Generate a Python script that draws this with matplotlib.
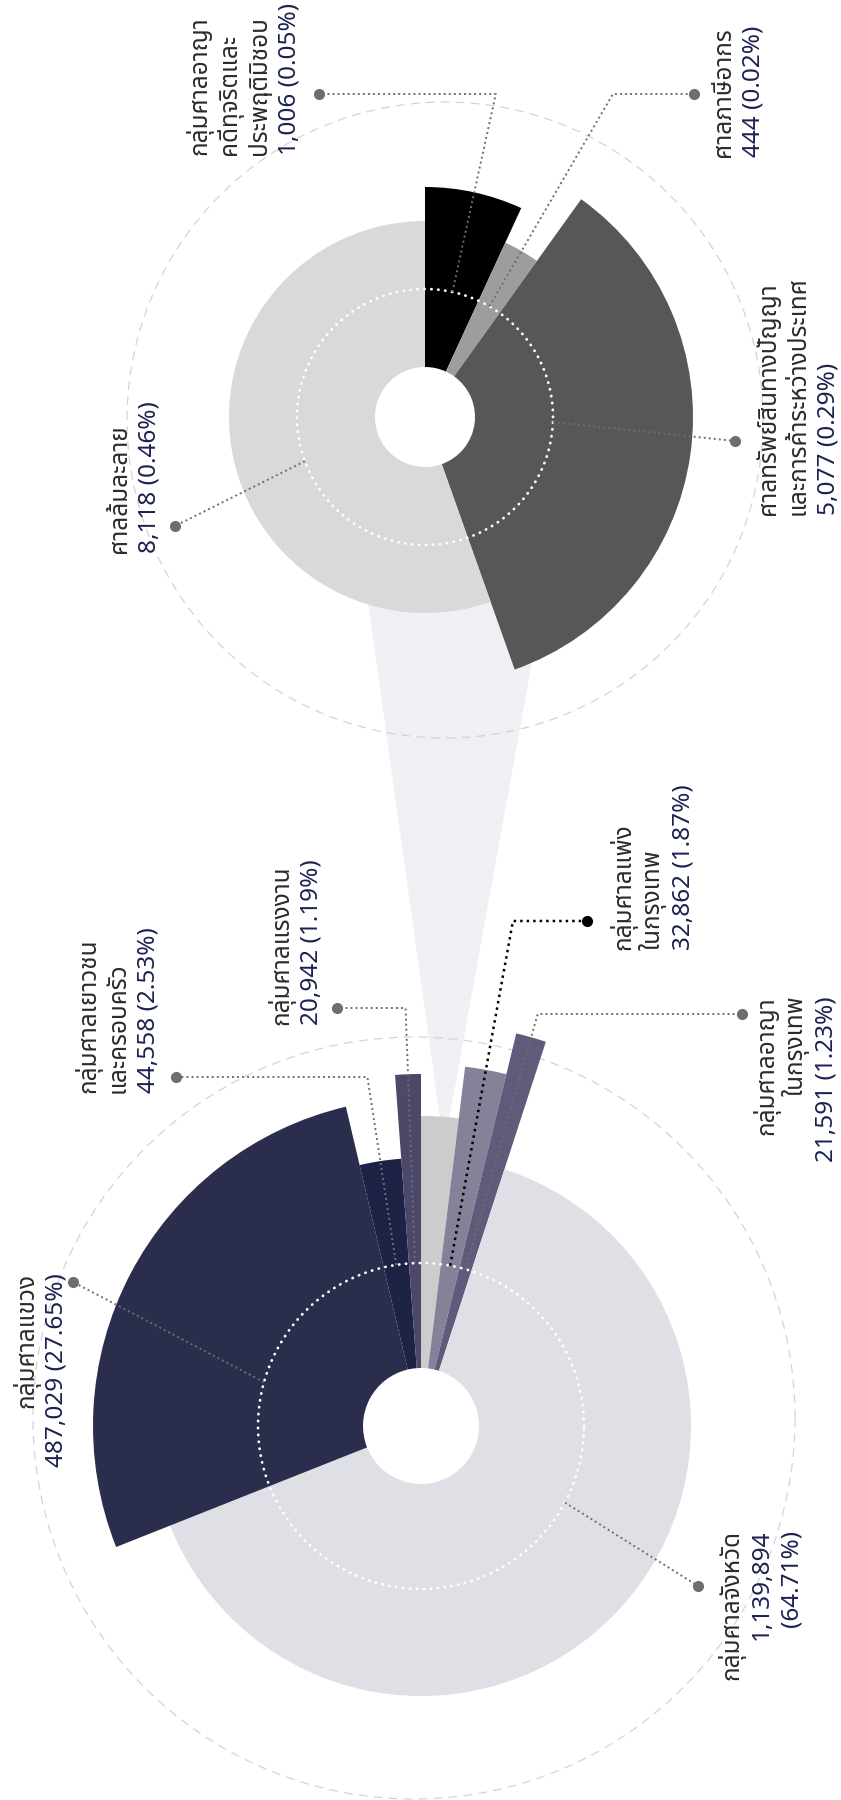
import numpy as np
import matplotlib
matplotlib.use('Agg')
import matplotlib.pyplot as plt
from matplotlib.patches import Wedge, Polygon
from matplotlib import font_manager
from fontTools.ttLib import TTFont

# ---- data: cases by court group ----
main_courts = ['กลุ่มศาลแพ่งในกรุงเทพ', 'กลุ่มศาลอาญาในกรุงเทพ', 'กลุ่มศาลจังหวัด',
               'กลุ่มศาลแขวง', 'กลุ่มศาลเยาวชนและครอบครัว', 'กลุ่มศาลแรงงาน']
main_cases = [32862, 21591, 1139894, 487029, 44558, 20942]
main_pct = [1.87, 1.23, 64.71, 27.65, 2.53, 1.19]

sub_courts = ['กลุ่มศาลอาญาคดีทุจริตและประพฤติมิชอบ', 'ศาลภาษีอากร',
              'ศาลทรัพย์สินทางปัญญาและการค้าระหว่างประเทศ', 'ศาลล้มละลาย']
sub_cases = [1006, 444, 5077, 8118]
sub_pct = [0.05, 0.02, 0.29, 0.46]

# how the names are broken into lines on the chart
main_name_lines = [['กลุ่มศาลแพ่ง', 'ในกรุงเทพ'], ['กลุ่มศาลอาญา', 'ในกรุงเทพ'], ['กลุ่มศาลจังหวัด'],
                   ['กลุ่มศาลแขวง'], ['กลุ่มศาลเยาวชน', 'และครอบครัว'], ['กลุ่มศาลแรงงาน']]
sub_name_lines = [['กลุ่มศาลอาญา', 'คดีทุจริตและ', 'ประพฤติมิชอบ'], ['ศาลภาษีอากร'],
                  ['ศาลทรัพย์สินทางปัญญา', 'และการค้าระหว่างประเทศ'], ['ศาลล้มละลาย']]


def find_thai_font():
    found = []
    for f in font_manager.fontManager.ttflist:
        try:
            tt = TTFont(f.fname, fontNumber=0, lazy=True)
            cmap = tt.getBestCmap()
            if cmap and 0x0E01 in cmap and 0x0E48 in cmap:
                found.append(f.name)
        except Exception:
            pass
    for pref in ['Noto Sans Thai', 'Noto Sans Thai UI', 'Noto Sans Thai Looped']:
        if pref in found:
            return pref
    return found[0] if found else None


thai = find_thai_font()
fams = ([thai] if thai else []) + ['Noto Sans', 'DejaVu Sans']

H = 1800
fig = plt.figure(figsize=(8.41, 18), dpi=100)
ax = fig.add_axes([0, 0, 1, 1])
ax.set_xlim(0, 841)
ax.set_ylim(0, H)
ax.set_aspect('equal')
ax.axis('off')

NAME_C = '#2b2b2b'
NUM_C = '#1c2250'
LEAD_C = '#6e6e6e'

# chart geometry (image pixels, y measured from the top)
main_c = (421, 1426)
main_hole, main_ring = 58, 163
main_r = [362, 404, 270, 328, 268, 352]
main_colors = ['#858199', '#5f5b7a', '#dfdfe6', '#2b2d4c', '#1e2244', '#4b4869']
other_r, other_col, other_sweep = 310, '#cccccc', 7.0

sub_c = (425, 417)
sub_hole, sub_ring = 50, 128
sub_r = [230, 192, 268, 196]
sub_colors = ['#000000', '#9d9d9d', '#575757', '#d9d9d9']


def P(x, y):
    return x, H - y


def ring_line(c, r, **kw):
    t = np.linspace(0, 2 * np.pi, 600)
    cx, cy = P(*c)
    ax.plot(cx + r * np.cos(t), cy + r * np.sin(t), **kw)


# connector between "others" slice and the secondary chart
ax.add_patch(Polygon([P(351, 480), P(565, 480), P(444, 1147)], closed=True,
                     facecolor='#efeff4', edgecolor='none', zorder=1))

# outer dashed guide circles
ring_line((414, 1418), 381, color='#d4d4d4', lw=0.9, ls=(0, (7, 5)), zorder=2)
ring_line((445, 420), 318, color='#d4d4d4', lw=0.9, ls=(0, (7, 5)), zorder=2)

# ---- main chart wedges, clockwise from 12 o'clock, "others" first ----
others = sum(sub_cases)
total = sum(main_cases) + others
rest = 360.0 - other_sweep
sweeps = [v / (total - others) * rest for v in main_cases]
cx, cy = P(*main_c)
ax.add_patch(Wedge((cx, cy), other_r, 90 - other_sweep, 90, width=other_r - main_hole,
                   facecolor=other_col, edgecolor='none', zorder=3))
start = 90 - other_sweep
main_mid = []
for s, r, col in zip(sweeps, main_r, main_colors):
    ax.add_patch(Wedge((cx, cy), r, start - s, start, width=r - main_hole,
                       facecolor=col, edgecolor='none', zorder=3))
    main_mid.append(start - s / 2)
    start -= s

# ---- secondary chart ----
sx, sy = P(*sub_c)
start = 90
sub_mid = []
for v, r, col in zip(sub_cases, sub_r, sub_colors):
    s = v / others * 360
    ax.add_patch(Wedge((sx, sy), r, start - s, start, width=r - sub_hole,
                       facecolor=col, edgecolor='none', zorder=3))
    sub_mid.append(start - s / 2)
    start -= s

ring_line(main_c, main_ring, color='white', lw=2.0, ls=(0, (0.1, 2.4)),
          dash_capstyle='round', zorder=4)
ring_line(sub_c, sub_ring, color='white', lw=2.0, ls=(0, (0.1, 2.4)),
          dash_capstyle='round', zorder=4)


def leader(c, ring, mid, dot, kind, ang=None, color=LEAD_C, lw=1.4):
    ccx, ccy = P(*c)
    dx, dy = P(*dot)
    if kind == 'elbow':
        a = np.radians(mid)
        p0 = (ccx + ring * np.cos(a), ccy + ring * np.sin(a))
        re = (dy - ccy) / np.sin(a)
        p1 = (ccx + re * np.cos(a), dy)
        xs, ys = [p0[0], p1[0], dx], [p0[1], p1[1], dy]
    else:
        a = np.radians(ang)
        xs = [ccx + ring * np.cos(a), dx]
        ys = [ccy + ring * np.sin(a), dy]
    ax.plot(xs, ys, color=color, lw=lw, ls=(0, (1, 1.6)), zorder=5)
    ax.plot([dx], [dy], 'o', color=color, ms=7, zorder=6)


def label(lines, n_name, base_x, y, ha, pitch=30, size=17.5):
    xx, yy = P(base_x, y)
    for i, txt in enumerate(lines):
        ax.text(xx + i * pitch, yy, txt, rotation=90, rotation_mode='anchor',
                ha=ha, va='baseline', fontsize=size, family=fams,
                color=NAME_C if i < n_name else NUM_C, zorder=7)


# label layout: first-line baseline x, start/end y, alignment, dot, leader type
main_layout = [
    dict(bx=630, y=950, ha='left', dot=(587, 921), kind='elbow', color='#000000', lw=1.8),
    dict(bx=773, y=996, ha='right', dot=(742, 1014), kind='elbow'),
    dict(bx=738, y=1530, ha='right', dot=(698, 1586), kind='straight', ang=-28, split=True),
    dict(bx=33, y=1273, ha='right', dot=(73, 1282), kind='straight', ang=164.4),
    dict(bx=95, y=1093, ha='left', dot=(176, 1077), kind='elbow'),
    dict(bx=288, y=1025, ha='left', dot=(337, 1008), kind='elbow'),
]
sub_layout = [
    dict(bx=206, y=155, ha='left', dot=(319, 94), kind='elbow'),
    dict(bx=730, y=157, ha='left', dot=(694, 94), kind='elbow'),
    dict(bx=775, y=515, ha='left', dot=(735, 441), kind='straight', ang=-2.3),
    dict(bx=126, y=553, ha='left', dot=(175, 526), kind='straight', ang=200.2),
]

for names, v, pct, mid, lay in zip(main_name_lines, main_cases, main_pct, main_mid, main_layout):
    leader(main_c, main_ring, mid, lay['dot'], lay['kind'], lay.get('ang'),
           lay.get('color', LEAD_C), lay.get('lw', 1.4))
    if lay.get('split'):
        nums = [f'{v:,}', f'({pct:.2f}%)']
    else:
        nums = [f'{v:,} ({pct:.2f}%)']
    label(names + nums, len(names), lay['bx'], lay['y'], lay['ha'])

for names, v, pct, mid, lay in zip(sub_name_lines, sub_cases, sub_pct, sub_mid, sub_layout):
    leader(sub_c, sub_ring, mid, lay['dot'], lay['kind'], lay.get('ang'))
    label(names + [f'{v:,} ({pct:.2f}%)'], len(names), lay['bx'], lay['y'], lay['ha'])

fig.savefig('out.png', dpi=100, facecolor='white')
